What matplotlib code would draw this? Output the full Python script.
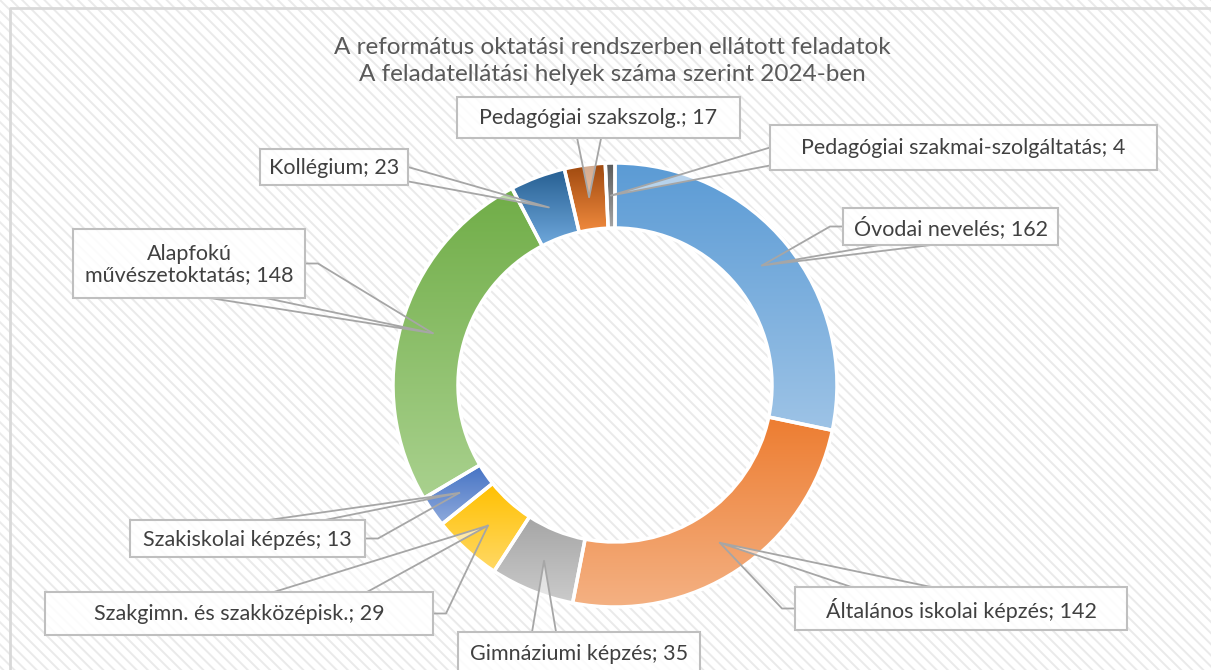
import numpy as np
import matplotlib.pyplot as plt
from matplotlib.colors import to_rgb
from matplotlib.patches import Rectangle, Polygon

W, H = 1211, 670
FONT = 'Lato'

labels = ['Óvodai nevelés', 'Általános iskolai képzés', 'Gimnáziumi képzés',
          'Szakgimn. és szakközépisk.', 'Szakiskolai képzés',
          'Alapfokú\nművészetoktatás', 'Kollégium', 'Pedagógiai szakszolg.',
          'Pedagógiai szakmai-szolgáltatás']
values = [162, 142, 35, 29, 13, 148, 23, 17, 4]
top_colors = ['#5B9BD5', '#ED7D31', '#A5A5A5', '#FFC000', '#4472C4',
              '#70AD47', '#255E91', '#9E480E', '#595959']
bottom_colors = ['#9DC3E6', '#F4B183', '#CBCBCB', '#FFD966', '#8FAADC',
                 '#A9D18E', '#6FA8DC', '#F08A3E', '#A5A5A5']

title = 'A református oktatási rendszerben ellátott feladatok\nA feladatellátási helyek száma szerint 2024-ben'

# label boxes in pixel coords (left, top, right, bottom), same order as values
boxes = [(843, 208, 1058, 245), (795, 587, 1127, 630), (458, 632, 700, 675),
         (45, 592, 433, 635), (130, 520, 365, 557), (73, 229, 305, 298),
         (260, 149, 408, 185), (457, 97, 740, 138), (770, 125, 1157, 170)]

CX, CY, R, RW = 615, 385, 222, 65


def fy(y):
    return H - y


plt.rcParams['hatch.color'] = '#EAEAEA'
plt.rcParams['hatch.linewidth'] = 1.4

fig = plt.figure(figsize=(W / 100, H / 100), dpi=100)
ax = fig.add_axes([0, 0, 1, 1])

# background with diagonal pattern
ax.add_patch(Rectangle((0, 0), W, H, facecolor='white', edgecolor='#EAEAEA',
                       hatch='\\\\\\', linewidth=0, zorder=0))
ax.plot([10, 10, W], [0, fy(8), fy(8)], color='#D9D9D9', lw=2, zorder=1)

wedges, _ = ax.pie(values, radius=R, center=(CX, fy(CY)), startangle=90,
                   counterclock=False, colors=top_colors,
                   wedgeprops=dict(width=RW, edgecolor='white', linewidth=2.5))

# vertical gradient inside each slice
for w, c1, c2 in zip(wedges, top_colors, bottom_colors):
    ext = w.get_path().get_extents()
    t = np.linspace(0, 1, 256)[:, None, None]
    img = (1 - t) * np.array(to_rgb(c1)) + t * np.array(to_rgb(c2))
    im = ax.imshow(img, extent=(ext.x0, ext.x1, ext.y0, ext.y1),
                   aspect='auto', interpolation='bilinear', zorder=2)
    im.set_clip_path(w)
    w.set_facecolor('none')
    w.set_zorder(3)

lc = '#A6A6A6'
rmid = R - RW / 2
for w, lab, val, box in zip(wedges, labels, values, boxes):
    a = np.deg2rad((w.theta1 + w.theta2) / 2)
    tx, ty = CX + rmid * np.cos(a), fy(CY) + rmid * np.sin(a)
    x0, x1 = box[0], box[2]
    yt, yb = fy(box[1]), fy(box[3])
    bw, bh = x1 - x0, yt - yb
    edge_y = yt if ty > yt else yb
    dx = max(x0 - tx, tx - x1)
    sx = None
    if dx > 0 and abs(ty - edge_y) < 0.2 * dx:
        # tip nearly level with the box: wedge leaves from the side
        ex = x1 if tx > x1 else x0
        base = [(ex, yb + 0.5 * bh), (ex, yb + 0.1 * bh)]
    else:
        if tx < x0:
            bx = (x0 + 0.17 * bw, x0 + 0.41 * bw)
            sx, stub = x0, x0 - 13
        elif tx > x1:
            bx = (x1 - 0.41 * bw, x1 - 0.17 * bw)
            sx, stub = x1, x1 + 13
        else:
            bx = (tx - 12, tx + 12)
        base = [(bx[0], edge_y), (bx[1], edge_y)]
    ax.add_patch(Polygon([base[0], (tx, ty), base[1]], closed=True,
                         facecolor='white', alpha=0.55, edgecolor='none',
                         zorder=4))
    ax.plot([base[0][0], tx, base[1][0]], [base[0][1], ty, base[1][1]],
            color=lc, lw=1.3, zorder=4)
    if sx is not None:
        my = (yt + yb) / 2
        ax.plot([sx, stub, tx], [my, my, ty], color=lc, lw=1.3, zorder=4)
    ax.add_patch(Rectangle((x0, yb), bw, bh, facecolor='white',
                           alpha=0.85, edgecolor='none', zorder=5))
    ax.add_patch(Rectangle((x0, yb), bw, bh, facecolor='none',
                           edgecolor='#BFBFBF', lw=1.5, zorder=6))
    ax.text((x0 + x1) / 2, (yt + yb) / 2 - 1, f'{lab}; {val}', ha='center',
            va='center', fontsize=15.5, color='#404040', family=FONT,
            linespacing=1.05, zorder=7)

ax.text(612, fy(61), title, ha='center', va='center', fontsize=17.5,
        color='#595959', family=FONT, linespacing=1.4, zorder=7)

ax.set_xlim(0, W)
ax.set_ylim(0, H)
ax.set_aspect('auto')
ax.axis('off')

plt.savefig('out.png', dpi=100)
